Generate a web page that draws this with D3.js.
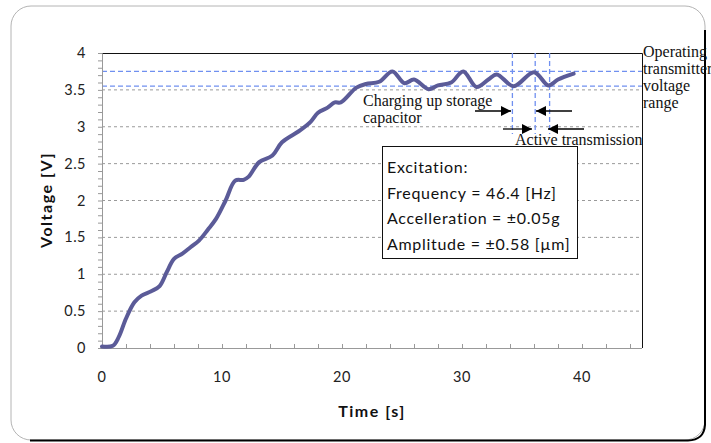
<!DOCTYPE html>
<html><head><meta charset="utf-8">
<script src="https://cdn.jsdelivr.net/npm/d3@7/dist/d3.min.js"></script>
<style>body{margin:0;background:#fff}svg{display:block}</style>
</head><body>
<svg id="c" width="711" height="443"></svg>
<script>
const times = [0, 0.9, 1.4, 2.0, 2.7, 3.3, 4.1, 4.8, 5.4, 6.0, 6.7, 7.4, 8.1, 8.8, 9.5, 10.3, 11.1, 11.8, 12.2, 13.1, 14.2, 15.0, 16.5, 17.4, 18.0, 18.8, 19.4, 19.9, 21.2, 22.0, 23.1, 24.2, 25.2, 26.0, 27.2, 28.0, 29.1, 30.1, 31.2, 32.2, 32.9, 34.3, 36.0, 37.2, 38.0, 39.3];
const voltage = [0.02, 0.03, 0.15, 0.40, 0.62, 0.71, 0.77, 0.84, 1.03, 1.21, 1.28, 1.37, 1.46, 1.60, 1.75, 2.0, 2.27, 2.28, 2.32, 2.52, 2.61, 2.79, 2.95, 3.07, 3.19, 3.26, 3.33, 3.33, 3.53, 3.58, 3.61, 3.75, 3.59, 3.64, 3.51, 3.56, 3.60, 3.75, 3.54, 3.64, 3.71, 3.55, 3.74, 3.56, 3.64, 3.72];
const yTicks = [0, 0.5, 1, 1.5, 2, 2.5, 3, 3.5, 4];
const xTicks = [0, 10, 20, 30, 40];
const rangeLines = [3.55, 3.75];
const phaseTimes = [34.2, 36.1, 37.3];
const boxLines = ["Excitation:", "Frequency = 46.4 [Hz]", "Accelleration = \u00b10.05g", "Amplitude = \u00b10.58 [\u00b5m]"];
const rangeLabel = ["Operating", "transmitter", "voltage", "range"];
const chargeLabel = ["Charging up storage", "capacitor"];
const activeLabel = "Active transmission";

const svg = d3.select("#c");
const L = 102, R = 642, T = 53, B = 348;
const x = d3.scaleLinear().domain([0, 45]).range([L, R]);
const y = d3.scaleLinear().domain([0, 4]).range([B, T]);
const sans = "Lato, 'Open Sans', sans-serif";
const serif = "'Liberation Serif', 'DejaVu Serif', serif";

// outer frame
svg.append("rect").attr("x", 11).attr("y", 6).attr("width", 694).attr("height", 434)
  .attr("rx", 20).attr("fill", "#fff").attr("stroke", "#b4b4b4").attr("stroke-width", 1);
svg.append("path").attr("d", "M30,440.5 H688 Q704,440 705,425 V30")
  .attr("fill", "none").attr("stroke", "#000").attr("stroke-width", 2);

// gridlines
svg.append("g").selectAll("line").data(yTicks.filter(d => d > 0 && d < 4)).join("line")
  .attr("x1", L).attr("x2", R).attr("y1", d => y(d)).attr("y2", d => y(d))
  .attr("stroke", "#9a9a9a").attr("stroke-width", 1).attr("stroke-dasharray", "3,3");

// plot border top & right
svg.append("path").attr("d", `M${L},${T + 0.5} H${R + 0.5} V${B}`)
  .attr("fill", "none").attr("stroke", "#111").attr("stroke-width", 1);

// blue range lines
svg.append("g").selectAll("line").data(rangeLines).join("line")
  .attr("x1", L).attr("x2", R).attr("y1", d => y(d)).attr("y2", d => y(d))
  .attr("stroke", "#7090f0").attr("stroke-width", 1.3).attr("stroke-dasharray", "5,3");
svg.append("g").selectAll("line").data(phaseTimes).join("line")
  .attr("x1", d => x(d)).attr("x2", d => x(d)).attr("y1", T).attr("y2", 134)
  .attr("stroke", "#7090f0").attr("stroke-width", 1.3).attr("stroke-dasharray", "5,3");

// axes
const yAxis = d3.axisLeft(y).tickValues(d3.range(0, 40.5, 1).map(d => d / 10)).tickSize(4).tickFormat("");
const gy = svg.append("g").attr("transform", `translate(${L},0)`).call(yAxis);
gy.selectAll("path,line").attr("stroke", "#999");
svg.append("g").selectAll("text").data(yTicks).join("text")
  .attr("x", 86).attr("y", d => y(d) + 5).attr("text-anchor", "end")
  .attr("font-family", sans).attr("font-size", 14.5).attr("letter-spacing", 0.5).attr("fill", "#222").text(d => d);

const xAxis = d3.axisBottom(x).tickValues(d3.range(0, 45, 2)).tickSize(-4).tickFormat("");
const gx = svg.append("g").attr("transform", `translate(0,${B})`).call(xAxis);
gx.selectAll("path,line").attr("stroke", "#999");
gx.select(".domain").attr("d", `M${L},0.5H${R}`);
svg.append("g").selectAll("text").data(xTicks).join("text")
  .attr("x", d => x(d)).attr("y", 382).attr("text-anchor", "middle")
  .attr("font-family", sans).attr("font-size", 14.5).attr("letter-spacing", 0.5).attr("fill", "#222").text(d => d);

// axis titles
svg.append("text").attr("x", 372).attr("y", 417).attr("text-anchor", "middle")
  .attr("font-family", sans).attr("font-weight", "bold").attr("font-size", 16).attr("letter-spacing", 1.5).attr("fill", "#111").text("Time [s]");
svg.append("text").attr("transform", "translate(52,200) rotate(-90)").attr("text-anchor", "middle")
  .attr("font-family", sans).attr("font-weight", "bold").attr("font-size", 16).attr("letter-spacing", 1.5).attr("fill", "#111").text("Voltage [V]");

// data line
const pts = times.map((t, i) => [t, voltage[i]]);
svg.append("path").datum(pts)
  .attr("d", d3.line().x(d => x(d[0])).y(d => y(d[1])).curve(d3.curveCatmullRom.alpha(0.5)))
  .attr("fill", "none").attr("stroke", "#5b5b98").attr("stroke-width", 4).attr("stroke-linejoin", "round").attr("stroke-linecap", "round");

// annotations
const defs = svg.append("defs");
defs.append("marker").attr("id", "ah").attr("viewBox", "0 0 10 10").attr("refX", 10).attr("refY", 5)
  .attr("markerWidth", 13).attr("markerHeight", 10).attr("markerUnits", "userSpaceOnUse").attr("orient", "auto")
  .append("path").attr("d", "M0,0 L10,5 L0,10 Z").attr("fill", "#000");
const arrows = [[475, 111, 511, 111], [572, 111, 536, 111], [503, 129, 532, 129], [584, 129, 548, 129]];
svg.append("g").selectAll("line").data(arrows).join("line")
  .attr("x1", d => d[0]).attr("y1", d => d[1]).attr("x2", d => d[2]).attr("y2", d => d[3])
  .attr("stroke", "#000").attr("stroke-width", 1.3).attr("marker-end", "url(#ah)");

svg.append("g").selectAll("text").data(chargeLabel).join("text")
  .attr("x", 363).attr("y", (d, i) => 106 + i * 17)
  .attr("font-family", serif).attr("font-size", 16).attr("fill", "#111").text(d => d);
svg.append("text").attr("x", 515).attr("y", 145)
  .attr("font-family", serif).attr("font-size", 16).attr("fill", "#111").text(activeLabel);
svg.append("g").selectAll("text").data(rangeLabel).join("text")
  .attr("x", 643).attr("y", (d, i) => 57 + i * 17)
  .attr("font-family", serif).attr("font-size", 16).attr("fill", "#111").text(d => d);

// excitation box
svg.append("rect").attr("x", 382.5).attr("y", 146.5).attr("width", 195).attr("height", 112)
  .attr("fill", "#fff").attr("stroke", "#111").attr("stroke-width", 1);
svg.append("g").selectAll("text").data(boxLines).join("text")
  .attr("x", 387).attr("y", (d, i) => 173 + i * 25.5)
  .attr("font-family", sans).attr("font-size", 16).attr("letter-spacing", 0.7).attr("fill", "#111").text(d => d);
</script>
</body></html>
